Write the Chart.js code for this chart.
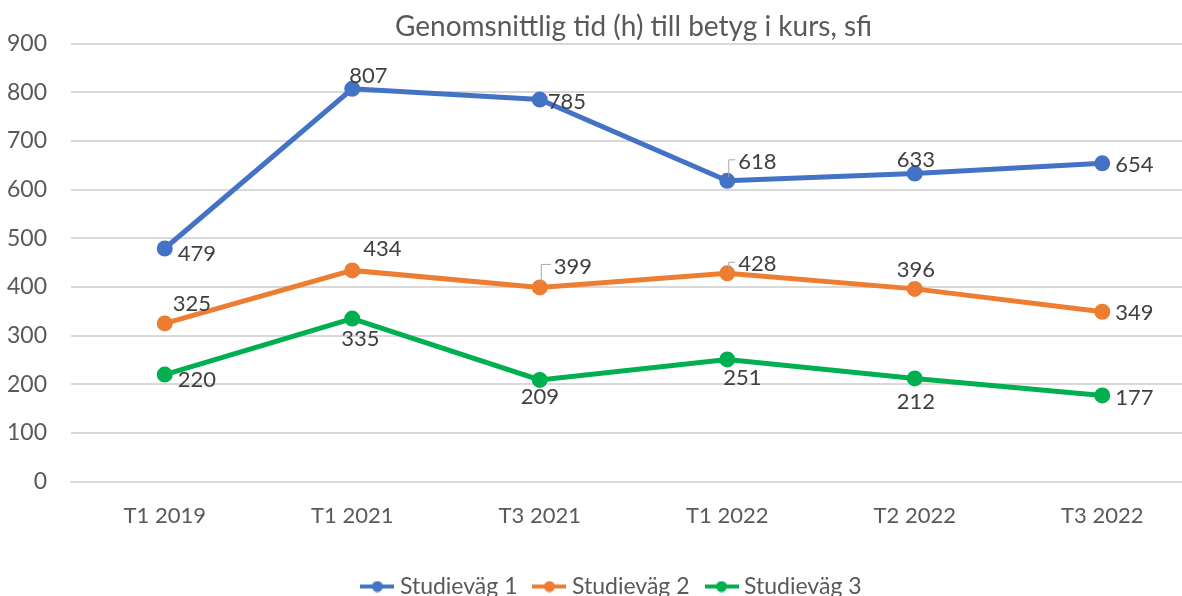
<!DOCTYPE html>
<html>
<head>
<meta charset="utf-8">
<script src="https://cdn.jsdelivr.net/npm/chart.js@4/dist/chart.umd.min.js"></script>
<style>
  html, body { margin: 0; padding: 0; background: #fff; overflow: hidden; }
  #wrap { position: relative; width: 1262px; height: 608px; }
</style>
</head>
<body>
<div id="wrap"><canvas id="chart"></canvas></div>
<script>
// data
const categories = ["T1 2019", "T1 2021", "T3 2021", "T1 2022", "T2 2022", "T3 2022"];
const studievag1 = [479, 807, 785, 618, 633, 654];
const studievag2 = [325, 434, 399, 428, 396, 349];
const studievag3 = [220, 335, 209, 251, 212, 177];
const seriesNames = ["Studieväg 1", "Studieväg 2", "Studieväg 3"];
const yTicks = { min: 0, max: 900, step: 100 };

// label placement relative to each point: [dx, dy, leader line]
const labelPos = [
    [[13, 5], [-3, -13], [8, 2], [11, -19, true], [-18, -14], [13, 2]],
    [[8, -20], [11, -21], [14, -21, true], [11, -9, true], [-18, -19], [13, 1]],
    [[13, 5], [-11, 20], [-19, 17], [-4, 18], [-18, 23], [13, 2]],
];

const colors = ["#4472C4", "#ED7D31", "#00B050"];
const FONT = "Lato, 'Open Sans', sans-serif";

// legend marker: short line with a dot in the middle
function legendMarker(color) {
    const c = document.createElement("canvas");
    c.width = 34;
    c.height = 12;
    const g = c.getContext("2d");
    g.strokeStyle = color;
    g.lineWidth = 4;
    g.beginPath();
    g.moveTo(0, 6);
    g.lineTo(34, 6);
    g.stroke();
    g.fillStyle = color;
    g.beginPath();
    g.arc(17, 6, 5.5, 0, Math.PI * 2);
    g.fill();
    return c;
}

const dataLabels = {
    id: "dataLabels",
    afterLayout(chart) {
        // let the y tick labels reach into the left padding without clipping
        chart.scales.y.left = 0;
    },
    afterDatasetsDraw(chart) {
        const ctx = chart.ctx;
        ctx.save();
        ctx.font = "22px " + FONT;
        ctx.fillStyle = "#404040";
        ctx.textAlign = "left";
        ctx.textBaseline = "middle";
        chart.data.datasets.forEach((ds, i) => {
            const meta = chart.getDatasetMeta(i);
            meta.data.forEach((pt, j) => {
                const pos = labelPos[i][j];
                const tx = pt.x + pos[0];
                const ty = pt.y + pos[1];
                if (pos[2]) {
                    ctx.strokeStyle = "#a6a6a6";
                    ctx.lineWidth = 1;
                    ctx.beginPath();
                    ctx.moveTo(pt.x + 1.5, pt.y - 4);
                    ctx.lineTo(pt.x + 1.5, ty - 2);
                    ctx.lineTo(tx - 3, ty - 2);
                    ctx.stroke();
                }
                ctx.fillText(String(ds.data[j]), tx, ty);
            });
        });
        ctx.restore();
    }
};

function makeDataset(name, values, color) {
    return {
        label: name,
        data: values,
        borderColor: color,
        backgroundColor: color,
        borderWidth: 5,
        pointStyle: "circle",
        pointRadius: 5.5,
        pointHoverRadius: 5.5,
        tension: 0,
    };
}

const ctx = document.getElementById("chart").getContext("2d");
const chart = new Chart(ctx, {
    type: "line",
    data: {
        labels: categories,
        datasets: [
            makeDataset(seriesNames[0], studievag1, colors[0]),
            makeDataset(seriesNames[1], studievag2, colors[1]),
            makeDataset(seriesNames[2], studievag3, colors[2]),
        ],
    },
    options: {
        responsive: true,
        maintainAspectRatio: false,
        animation: false,
        layout: { padding: { top: 10, left: 32, right: 66, bottom: 0 } },
        plugins: {
            title: {
                display: true,
                fullSize: false,
                text: "Genomsnittlig tid (h) till betyg i kurs, sfi",
                color: "#595959",
                font: { family: FONT, size: 28, weight: "normal" },
                padding: { top: 0, bottom: 0 },
            },
            legend: {
                position: "bottom",
                labels: {
                    usePointStyle: true,
                    pointStyleWidth: 22,
                    color: "#595959",
                    font: { family: FONT, size: 23 },
                    padding: 21,
                    generateLabels(chart) {
                        return chart.data.datasets.map((ds, i) => ({
                            text: ds.label,
                            fillStyle: ds.borderColor,
                            strokeStyle: ds.borderColor,
                            fontColor: "#595959",
                            lineWidth: 0,
                            pointStyle: legendMarker(ds.borderColor),
                            datasetIndex: i,
                            hidden: false,
                        }));
                    },
                },
            },
            tooltip: { enabled: false },
        },
        scales: {
            x: {
                offset: true,
                afterFit(scale) {
                    scale.height += 4;
                },
                grid: { display: false, drawTicks: false },
                border: { display: true, color: "#d9d9d9", width: 2 },
                ticks: {
                    color: "#595959",
                    font: { family: FONT, size: 22 },
                    padding: 21,
                    maxRotation: 0,
                },
            },
            y: {
                min: yTicks.min,
                max: yTicks.max,
                afterFit(scale) {
                    scale.width = 39;
                },
                ticks: {
                    stepSize: yTicks.step,
                    color: "#595959",
                    font: { family: FONT, size: 23 },
                    padding: 24,
                },
                grid: { color: "#d9d9d9", lineWidth: 2, drawTicks: false },
                border: { display: false },
            },
        },
    },
    plugins: [dataLabels],
});
</script>
</body>
</html>
